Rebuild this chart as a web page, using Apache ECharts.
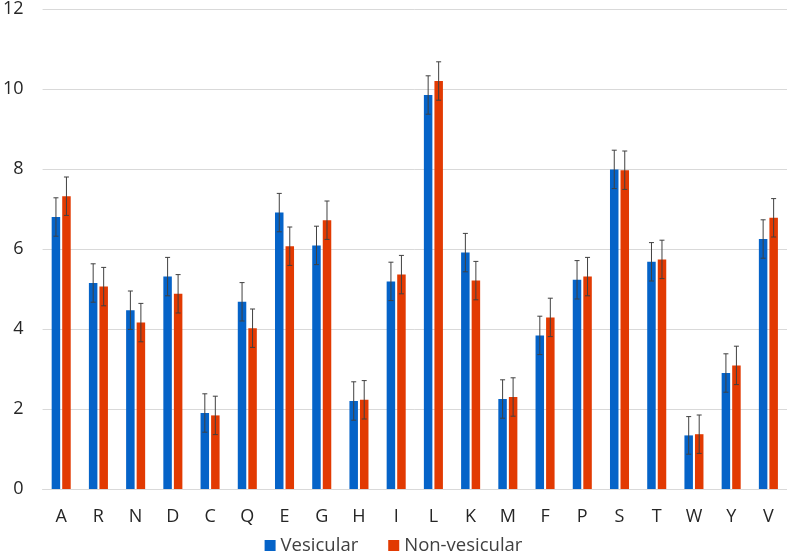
<!DOCTYPE html>
<html>
<head>
<meta charset="utf-8">
<script src="https://cdn.jsdelivr.net/npm/echarts@6/dist/echarts.min.js"></script>
<style>html,body{margin:0;padding:0;background:#fff}#c{width:787px;height:560px}</style>
</head>
<body>
<div id="c"></div>
<script>
var categories = ['A','R','N','D','C','Q','E','G','H','I','L','K','M','F','P','S','T','W','Y','V'];
var vesicular = [6.80,5.15,4.47,5.31,1.90,4.68,6.91,6.09,2.20,5.19,9.85,5.91,2.25,3.84,5.23,7.99,5.68,1.34,2.90,6.25];
var nonVesicular = [7.32,5.06,4.16,4.88,1.84,4.02,6.07,6.72,2.23,5.36,10.20,5.21,2.30,4.29,5.31,7.97,5.74,1.37,3.09,6.78];
var vesicularErr = [0.48,0.48,0.48,0.48,0.48,0.48,0.48,0.48,0.48,0.48,0.48,0.48,0.48,0.48,0.48,0.48,0.48,0.47,0.48,0.48];
var nonVesicularErr = [0.48,0.48,0.48,0.48,0.48,0.48,0.48,0.48,0.48,0.48,0.48,0.48,0.48,0.48,0.48,0.48,0.48,0.48,0.48,0.48];
var yTicks = [0,2,4,6,8,10,12];

var BAR_W = 8.5, GAP = 2;
function errData(vals, errs){
  return vals.map(function(v,i){ return [i, v - errs[i], v + errs[i]]; });
}
function errRender(offset){
  return function(params, api){
    var i = api.value(0);
    var lo = api.coord([i, api.value(1)]);
    var hi = api.coord([i, api.value(2)]);
    var x = lo[0] + offset;
    var cap = 2.5;
    var style = {stroke:'#404040', lineWidth:1};
    return {type:'group', children:[
      {type:'line', shape:{x1:x,y1:hi[1],x2:x,y2:lo[1]}, style:style},
      {type:'line', shape:{x1:x-cap,y1:hi[1],x2:x+cap,y2:hi[1]}, style:style},
      {type:'line', shape:{x1:x-cap,y1:lo[1],x2:x+cap,y2:lo[1]}, style:style}
    ]};
  };
}
var off = (BAR_W + GAP)/2;
var chart = echarts.init(document.getElementById('c'));
chart.setOption({
  animation:false,
  grid:{left:40, width:748, top:8, bottom:71, containLabel:false},
  legend:{
    bottom:0, left:'center', itemWidth:11, itemHeight:11, itemGap:30,
    icon:'rect',
    textStyle:{fontFamily:'Open Sans', fontSize:18.5, color:'#404040'},
    data:['Vesicular','Non-vesicular']
  },
  xAxis:{
    type:'category', data:categories,
    axisLine:{lineStyle:{color:'#d9d9d9'}},
    axisTick:{show:false},
    axisLabel:{fontFamily:'Open Sans', fontSize:18, color:'#262626', margin:19}
  },
  yAxis:{
    type:'value', min:yTicks[0], max:yTicks[yTicks.length-1], interval:2,
    axisLine:{show:false}, axisTick:{show:false},
    splitLine:{lineStyle:{color:'#d9d9d9'}},
    axisLabel:{fontFamily:'Open Sans', fontSize:18, color:'#262626', margin:19}
  },
  series:[
    {name:'Vesicular', type:'bar', data:vesicular, barWidth:BAR_W, barGap:'24%', itemStyle:{color:'#0563c8'}},
    {name:'Non-vesicular', type:'bar', data:nonVesicular, barWidth:BAR_W, barGap:'24%', itemStyle:{color:'#e23a02'}},
    {type:'custom', renderItem:errRender(-off), data:errData(vesicular, vesicularErr), encode:{x:0,y:[1,2]}, z:10, silent:true},
    {type:'custom', renderItem:errRender(off), data:errData(nonVesicular, nonVesicularErr), encode:{x:0,y:[1,2]}, z:10, silent:true}
  ]
});
</script>
</body>
</html>
